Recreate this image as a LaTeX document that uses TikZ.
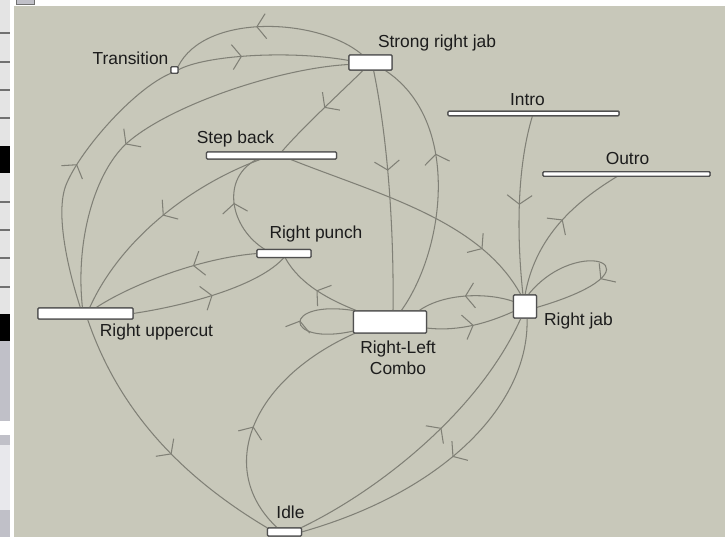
\documentclass[tikz,border=0pt]{standalone}
\usepackage{fontspec}
\setmainfont{Liberation Sans}
\usetikzlibrary{arrows.meta,decorations.markings,calc}

\definecolor{canvas}{RGB}{200,200,186}
\definecolor{wire}{RGB}{128,128,118}
\definecolor{frame}{RGB}{80,80,80}
\definecolor{ink}{RGB}{28,28,28}
\definecolor{panel}{RGB}{228,228,228}
\definecolor{panelrule}{RGB}{112,112,112}
\definecolor{panelgray}{RGB}{192,192,200}
\definecolor{panellight}{RGB}{232,232,236}

\tikzset{
  state/.style={draw=frame, line width=1.4pt, fill=white, rounded corners=1pt,
    inner sep=0pt, outer sep=0pt},
  lbl/.style={text=ink, font=\fontsize{17.4}{21}\selectfont, inner sep=0pt, align=center},
  link/.style={draw=wire, line width=1.05pt},
  chev/.style={postaction={decorate, decoration={markings,
    mark=at position #1 with {\arrow[wire]{Straight Barb[length=9pt,width=25pt,line width=1.05pt]}}}}},
  chev/.default=0.5
}

\begin{document}
\begin{tikzpicture}[x=1pt,y=-1pt]
\useasboundingbox (0,0) rectangle (725,537);

% window chrome
\fill[white] (0,0) rectangle (725,537);
\fill[panel] (0,0) rectangle (10,537);
\foreach \yy in {33,62,90,118,202,230,258,287}
  \draw[panelrule, line width=1.5pt] (0,\yy) -- (10,\yy);
\fill[black] (0,146) rectangle (10,173);
\fill[black] (0,314) rectangle (10,341);
\fill[panelgray] (0,341) rectangle (10,421);
\fill[white] (0,421) rectangle (10,435);
\fill[panelgray] (0,435) rectangle (10,445);
\fill[panellight] (0,445) rectangle (10,510);
\fill[panelgray] (0,510) rectangle (10,537);
\filldraw[fill=panelgray, draw=panelrule, line width=0.8pt] (16,-1) rectangle (34,4.5);

% graph canvas
\fill[canvas] (14,6) rectangle (725,537);

% states
\node[state, minimum width=7pt, minimum height=6.5pt] (trans) at (174.5,70) {};
\node[state, minimum width=43pt, minimum height=15pt] (srj) at (370.5,62.5) {};
\node[state, minimum width=171pt, minimum height=4.5pt] (intro) at (533.5,113.5) {};
\node[state, minimum width=167pt, minimum height=4.5pt] (outro) at (626.5,174) {};
\node[state, minimum width=130pt, minimum height=7pt] (stb) at (271.5,155.5) {};
\node[state, minimum width=54pt, minimum height=8pt] (rp) at (284,253.5) {};
\node[state, minimum width=95pt, minimum height=11pt] (upc) at (85.5,313.5) {};
\node[state, minimum width=73pt, minimum height=22pt] (rlc) at (390,322) {};
\node[state, minimum width=23pt, minimum height=23pt] (rj) at (525,306.5) {};
\node[state, minimum width=34pt, minimum height=8pt] (idle) at (284.5,532) {};

% labels
\node[lbl] (transL) at (130.5,58) {Transition};
\node[lbl] (srjL) at (437,43) {Strong right jab};
\node[lbl] (introL) at (527.5,99.5) {Intro};
\node[lbl] (outroL) at (627.5,158.5) {Outro};
\node[lbl] (stbL) at (235.5,139.5) {Step back};
\node[lbl] (rpL) at (316,234) {Right punch};
\node[lbl] (upcL) at (156.5,332.5) {Right uppercut};
\node[lbl] (rlcL) at (398,357.5) {Right-Left\\Combo};
\node[lbl] (rjL) at (578.5,321.5) {Right jab};
\node[lbl] (idleL) at (290.5,512.5) {Idle};

% transitions
\draw[link, chev=0.55] ($(srj.north)+(-8,0)$) .. controls (320,18) and (205,12) .. (trans.north east);
\draw[link, chev=0.38] (trans.east) .. controls (205,55) and (290,50) .. ($(srj.west)+(0,-2)$);
\draw[link, chev=0.53] ($(upc.north)+(-5,0)$) .. controls (68,270) and (55,213) .. (66,185)
   .. controls (80,150) and (135,88) .. (trans.south west);
\draw[link, chev=0.58] ($(srj.west)+(0,2)$) .. controls (280,68) and (170,105) .. (127,143)
   .. controls (95,172) and (75,240) .. ($(upc.north)+(-3,0)$);
\draw[link, chev=0.47] ($(srj.south)+(-7,0)$) .. controls (340,93) and (300,130) .. ($(stb.north)+(10,0)$);
\draw[link, chev=0.42] ($(srj.south)+(3,0)$) .. controls (388,140) and (394,230) .. ($(rlc.north)+(3,0)$);
\draw[link, chev=0.62] ($(rlc.north)+(11,0)$) .. controls (445,250) and (462,120) .. ($(srj.south)+(14,0)$);
\draw[link, chev=0.49] ($(stb.south)+(-10,0)$) .. controls (190,185) and (120,240) .. ($(upc.north)+(4,0)$);
\draw[link, chev=0.52] ($(rp.north)+(-19,0)$) .. controls (230,228) and (220,178) .. ($(stb.south)+(-14,0)$);
\draw[link, chev=0.78] ($(stb.south)+(18,0)$) .. controls (380,195) and (480,220) .. ($(rj.north)+(-4,0)$);
\draw[link, chev=0.38] (rp.west) .. controls (200,258) and (130,285) .. ($(upc.north)+(10,0)$);
\draw[link, chev=0.5] (upc.east) .. controls (190,305) and (260,285) .. (rp.south);
\draw[link, chev=0.5] ($(rlc.north west)+(4,0)$) .. controls (330,300) and (300,285) .. ($(rp.south)+(1,0)$);
\draw[link, chev=0.57] ($(upc.south)+(2,0)$) .. controls (115,400) and (170,470) .. (idle.north west);
\draw[link, chev=0.44] ($(idle.north)+(-7,0)$) .. controls (215,470) and (250,380) .. ($(rlc.south west)+(2,0)$);
\draw[link, chev=0.56] ($(idle.north east)+(-1,0)$) .. controls (380,490) and (480,410) .. ($(rj.south)+(-4,0)$);
\draw[link, chev=0.49] ($(rj.south)+(2,0)$) .. controls (530,400) and (450,490) .. (idle.east);
\draw[link, chev=0.53] ($(rlc.east)+(0,6)$) .. controls (460,332) and (490,322) .. ($(rj.west)+(0,5)$);
\draw[link, chev=0.5] ($(rj.west)+(0,-5)$) .. controls (490,293) and (445,292) .. ($(rlc.north east)+(-8,0)$);
\draw[link, chev=0.5] ($(rlc.west)+(0,9)$) .. controls (283,347) and (280,298) .. ($(rlc.north west)+(3,0)$);
\draw[link, chev=0.6] ($(rj.north)+(3,0)$) .. controls (578,232) and (672,268) .. ($(rj.east)+(0,1)$);
\draw[link, chev=0.5] ($(intro.south)+(-1,0)$) .. controls (516,170) and (517,240) .. ($(rj.north)+(-2,0)$);
\draw[link, chev=0.55] (rj.north) .. controls (535,240) and (570,205) .. ($(outro.south)+(-9,0)$);

% state boxes drawn again on top of the wires
\foreach \n in {trans,srj,intro,outro,stb,rp,upc,rlc,rj,idle}
  \draw[frame, line width=1.4pt, fill=white, rounded corners=1pt]
    (\n.south west) rectangle (\n.north east);
\end{tikzpicture}
\end{document}
